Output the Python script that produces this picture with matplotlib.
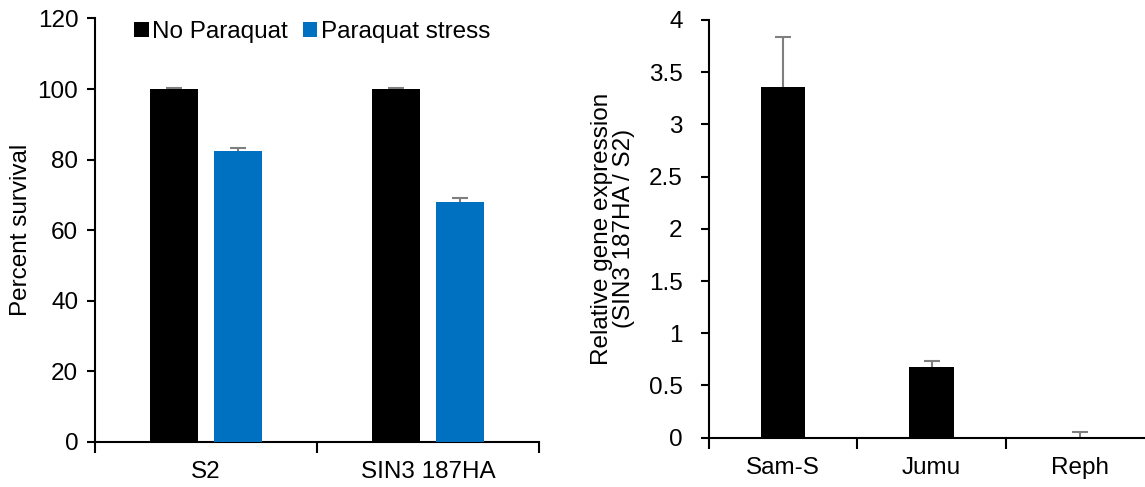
import numpy as np
import matplotlib
matplotlib.use("Agg")
import matplotlib.pyplot as plt

plt.rcParams['font.family'] = ['Liberation Sans', 'DejaVu Sans']

# Left panel: survival
cells = ["S2", "SIN3 187HA"]
no_paraquat = [100.0, 100.0]
no_paraquat_err = [0.3, 0.3]
paraquat = [82.4, 67.9]
paraquat_err = [0.9, 1.1]
series_names = ["No Paraquat", "Paraquat stress"]

# Right panel: relative expression
genes = ["Sam-S", "Jumu", "Reph"]
rel_expr = [3.36, 0.68, 0.01]
rel_expr_err = [0.48, 0.05, 0.04]

BLUE = "#0070C0"
ERR = "#7f7f7f"
FS = 17.5

fig = plt.figure(figsize=(11.45, 4.87), dpi=100)


def style_cat_axis(ax, n, labels, ypad):
    ax.set_xlim(0, n)
    ax.set_xticks(np.arange(n + 1))
    ax.set_xticklabels([])
    ax.set_xticks(np.arange(n) + 0.5, minor=True)
    ax.set_xticklabels(labels, minor=True, fontsize=FS)
    ax.tick_params(axis="x", which="major", direction="out", length=8, width=1.5)
    ax.tick_params(axis="x", which="minor", length=0, pad=14)
    ax.tick_params(axis="y", direction="out", length=6, width=1.5, labelsize=FS, pad=ypad)
    for s in ["top", "right"]:
        ax.spines[s].set_visible(False)
    for s in ["left", "bottom"]:
        ax.spines[s].set_linewidth(1.5)


def err_behind(ax, xs, ys, errs):
    # drawn under the bars so only the upper half shows, as in Excel
    ax.errorbar(xs, ys, yerr=errs, fmt="none", ecolor=ERR,
                elinewidth=1.5, capsize=6, capthick=1.5, zorder=2)


# --- left ---
ax1 = fig.add_axes([95 / 1145, 45 / 487, 444 / 1145, 423.6 / 487])
x = np.arange(len(cells)) + 0.5
w = 0.22
off = 0.144
ax1.bar(x - off, no_paraquat, w, color="black", label=series_names[0], zorder=3)
ax1.bar(x + off, paraquat, w, color=BLUE, label=series_names[1], zorder=3)
err_behind(ax1, x - off, no_paraquat, no_paraquat_err)
err_behind(ax1, x + off, paraquat, paraquat_err)
ax1.set_ylim(0, 120)
ax1.set_yticks(np.arange(0, 121, 20))
style_cat_axis(ax1, len(cells), cells, ypad=6)
ax1.set_ylabel("Percent survival", fontsize=FS, labelpad=4)
ax1.legend(loc="upper left", bbox_to_anchor=(0.066, 1.017), ncol=2, frameon=False,
           fontsize=FS, handlelength=0.6, handleheight=0.6, handletextpad=0.15,
           columnspacing=0.6, borderaxespad=0)

# --- right ---
ax2 = fig.add_axes([709 / 1145, 49.3 / 487, 445 / 1145, 417.7 / 487])
xg = np.arange(len(genes)) + 0.5
ax2.bar(xg, rel_expr, 0.30, color="black", zorder=3)
err_behind(ax2, xg, rel_expr, rel_expr_err)
ax2.set_ylim(0, 4)
ax2.set_yticks(np.arange(0, 4.01, 0.5))
ax2.set_yticklabels(["0", "0.5", "1", "1.5", "2", "2.5", "3", "3.5", "4"])
style_cat_axis(ax2, len(genes), genes, ypad=13)
ax2.set_ylabel("Relative gene expression\n(SIN3 187HA / S2)", fontsize=FS,
               labelpad=10, linespacing=1.0)

fig.savefig("out.png", dpi=100)
